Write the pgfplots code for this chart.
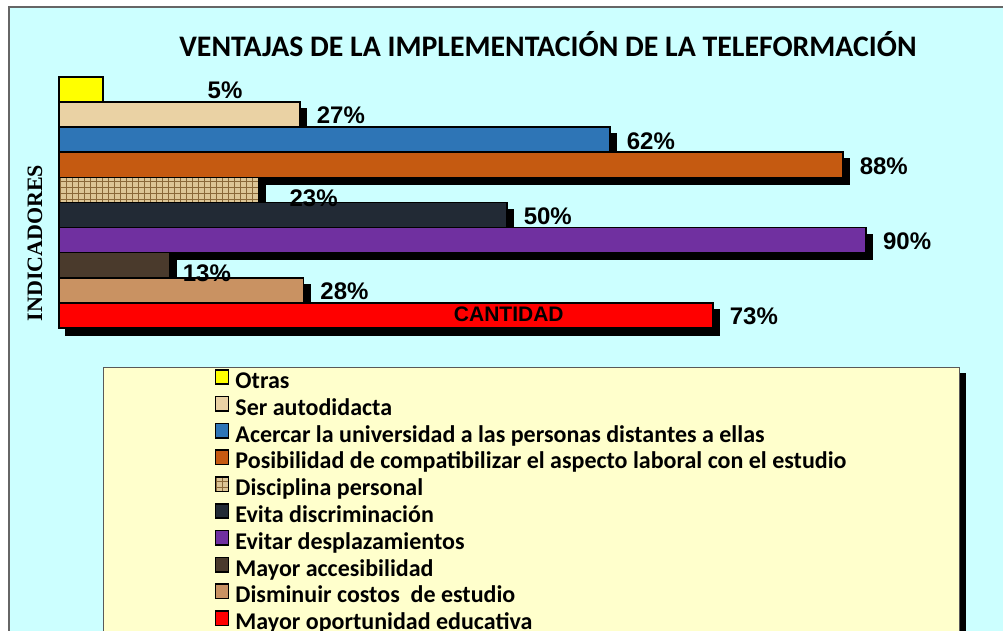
\documentclass[border=0pt]{standalone}
\usepackage{fontspec}
\setmainfont{Carlito}
\newfontfamily\arialf{Liberation Sans}
\newfontfamily\timesf{Liberation Serif}
\usepackage{pgfplots}
\pgfplotsset{compat=1.18}
\usetikzlibrary{patterns}

\definecolor{bgc}{HTML}{CCFFFF}
\definecolor{legc}{HTML}{FFFFCC}
\definecolor{c1}{HTML}{FFFF00}
\definecolor{c2}{HTML}{EAD2A4}
\definecolor{c3}{HTML}{2E75B6}
\definecolor{c4}{HTML}{C55A11}
\definecolor{c5}{HTML}{DCC595}
\definecolor{c5p}{HTML}{8A6838}
\definecolor{c6}{HTML}{222A35}
\definecolor{c7}{HTML}{7030A0}
\definecolor{c8}{HTML}{4A3A2C}
\definecolor{c9}{HTML}{C99262}
\definecolor{c10}{HTML}{FF0000}

\pgfplotsset{
  sh/.style={forget plot, fill=black, draw=black, line width=0.8pt, xshift=3.2pt, yshift=-3.5pt},
  mb/.style={draw=black, line width=0.8pt, nodes near coords, point meta=explicit symbolic},
}

\begin{document}
\begin{tikzpicture}[x=1pt,y=1pt]
\path[use as bounding box] (0,0) rectangle (501.5,315.5);
\fill[white] (0,0) rectangle (501.5,315.5);
\draw[gray!80!black, line width=0.6pt, fill=bgc] (4.5,-10) rectangle (520,312);
% legend panel with its shadow
\fill[black] (54.5,-10) rectangle (482.8,129);
\draw[gray!70!black, line width=0.5pt, fill=legc] (51.5,-10) rectangle (479.5,131.5);
\node[font=\bfseries\fontsize{14.9}{18}\selectfont] at (274,293.5) {VENTAJAS DE LA IMPLEMENTACIÓN DE LA TELEFORMACIÓN};
\node[rotate=90, font=\timesf\bfseries\fontsize{11}{13}\selectfont] at (17.5,194) {INDICADORES};
\begin{axis}[
  at={(29.5pt,151.5pt)}, anchor=south west,
  scale only axis, width=448pt, height=125.5pt,
  xmin=0, xmax=100, ymin=0.5, ymax=10.5,
  hide axis, clip=false,
  xbar, bar shift=0pt, bar width=1,
  every node near coord/.append style={font=\arialf\bfseries\fontsize{12}{14}\selectfont,
    anchor=west, inner sep=0pt, xshift=8pt, yshift=-0.5pt, text=black},
  legend style={at={(axis description cs:0.1733,-0.162)}, anchor=north west,
    draw=none, fill=none, inner sep=0pt, column sep=3pt, row sep=-0.45pt,
    font=\bfseries\fontsize{12}{14}\selectfont,
    nodes={inner ysep=0pt, inner xsep=0pt, text height=9.2pt, text depth=4.1pt}},
  legend cell align=left,
  legend image code/.code={\draw[#1,draw=black,line width=0.8pt] (0.4pt,-0.4pt) rectangle (7pt,6.8pt);},
]
% shadows
\addplot[sh] coordinates {(26.9,9)};
\addplot[sh] coordinates {(61.5,8)};
\addplot[sh] coordinates {(87.5,7)};
\addplot[sh] coordinates {(22.3,6)};
\addplot[sh] coordinates {(50.0,5)};
\addplot[sh] coordinates {(90.1,4)};
\addplot[sh] coordinates {(12.4,3)};
\addplot[sh] coordinates {(27.3,2)};
\addplot[sh] coordinates {(73.0,1)};
% bars
\addplot[mb, fill=c1, every node near coord/.append style={xshift=44pt}] coordinates {(4.9,10) [5\%]};
\addlegendentry{Otras}
\addplot[mb, fill=c2] coordinates {(26.9,9) [27\%]};
\addlegendentry{Ser autodidacta}
\addplot[mb, fill=c3] coordinates {(61.5,8) [62\%]};
\addlegendentry{Acercar la universidad a las personas distantes a ellas}
\addplot[mb, fill=c4] coordinates {(87.5,7) [88\%]};
\addlegendentry{Posibilidad de compatibilizar el aspecto laboral con el estudio}
\addplot[mb, fill=c5, postaction={pattern=grid, pattern color=c5p},
  every node near coord/.append style={xshift=7pt, yshift=-3.5pt}] coordinates {(22.3,6) [23\%]};
\addlegendentry{Disciplina personal}
\addplot[mb, fill=c6] coordinates {(50.0,5) [50\%]};
\addlegendentry{Evita discriminación}
\addplot[mb, fill=c7] coordinates {(90.1,4) [90\%]};
\addlegendentry{Evitar desplazamientos}
\addplot[mb, fill=c8, every node near coord/.append style={xshift=-2pt, yshift=-3.3pt}] coordinates {(12.4,3) [13\%]};
\addlegendentry{Mayor accesibilidad}
\addplot[mb, fill=c9] coordinates {(27.3,2) [28\%]};
\addlegendentry{Disminuir costos\ \ de estudio}
\addplot[mb, fill=c10] coordinates {(73.0,1) [73\%]};
\addlegendentry{Mayor oportunidad educativa}
\node[font=\arialf\bfseries\fontsize{10.5}{12}\selectfont] at (axis cs:50.2,1.06) {CANTIDAD};
\end{axis}
\end{tikzpicture}
\end{document}
